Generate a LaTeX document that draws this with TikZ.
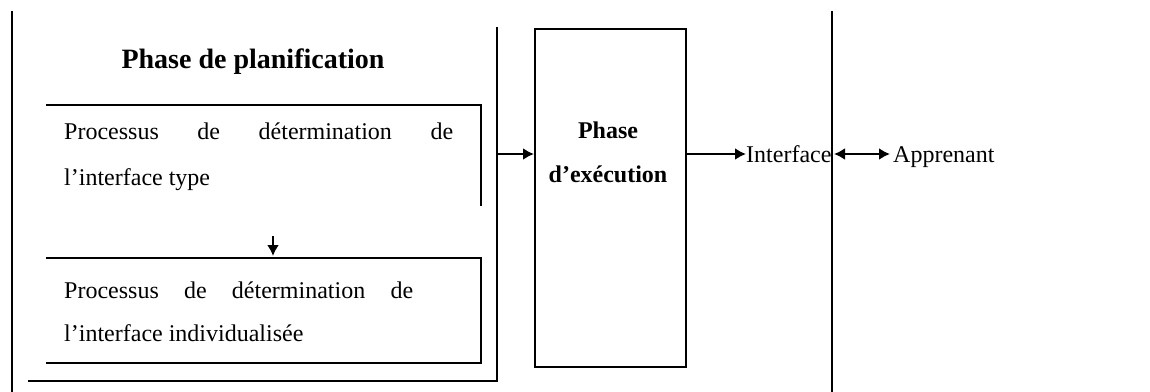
\documentclass[tikz,border=0pt]{standalone}
\usepackage{fontspec}
\setmainfont{Liberation Serif}
\usetikzlibrary{arrows.meta}
\begin{document}
\begin{tikzpicture}[x=1pt,y=-1pt,
  ln/.style={line width=2.2pt,line cap=rect},
  arr/.style={line width=2.2pt,-{Latex[length=11pt,width=12pt]}},
  darr/.style={line width=2.2pt,{Latex[length=11pt,width=12pt]}-{Latex[length=11pt,width=12pt]}},
  lbl/.style={font=\fontsize{24}{28}\selectfont,inner sep=0pt,text height=16pt,text depth=5pt},
  blbl/.style={font=\fontsize{24}{44}\selectfont\bfseries,inner sep=0pt,align=center}]
\useasboundingbox (0,0) rectangle (1150,391);
% page border lines
\coordinate (b1t) at (12,12); \coordinate (b1b) at (12,391);
\coordinate (b2t) at (832,12); \coordinate (b2b) at (832,391);
\draw[ln] (b1t) -- (b1b);
\draw[ln] (b2t) -- (b2b);
% planning phase outer frame
\coordinate (pl-bl) at (29,381); \coordinate (pl-br) at (497,381); \coordinate (pl-tr) at (497,28);
\draw[ln] (pl-bl) -- (pl-br) -- (pl-tr);
\coordinate (pl-out) at (497,154);
\node[blbl,font=\fontsize{28}{34}\selectfont\bfseries] (plt) at (253,62) {Phase de planification};
% process box 1
\coordinate (p1-tl) at (47,105); \coordinate (p1-tr) at (481,105); \coordinate (p1-br) at (481,205);
\draw[ln] (p1-tl) -- (p1-tr) -- (p1-br);
\node[lbl,anchor=west] (p1a) at (64,134) {\hbox to 389pt{Processus\hfill de\hfill détermination\hfill de}};
\node[lbl,anchor=west] (p1b) at (64,180) {l'interface type};
% process box 2
\coordinate (p2-tl) at (47,258); \coordinate (p2-tr) at (481,258); \coordinate (p2-br) at (481,363); \coordinate (p2-bl) at (47,363);
\draw[ln] (p2-tl) -- (p2-tr) -- (p2-br) -- (p2-bl);
\node[lbl,anchor=west] (p2a) at (64,293) {\hbox to 349pt{Processus\hfill de\hfill détermination\hfill de}};
\node[lbl,anchor=west] (p2b) at (64,336) {l'interface individualisée};
\coordinate (a1s) at (273,236); \coordinate (a1e) at (273,256);
\draw[arr] (a1s) -- (a1e);
% execution phase
\node[draw,line width=2.2pt,minimum width=151pt,minimum height=338pt,anchor=north west,inner sep=0pt] (exec) at (534,28) {};
\node[blbl] (exect) at (608,152) {Phase\\d'exécution};
\draw[arr] (pl-out) -- (exec.west |- pl-out);
\node[lbl,anchor=west] (intf) at (746,157) {Interface};
\draw[arr] (exec.east |- pl-out) -- (intf.west |- pl-out);
\node[lbl,anchor=west] (app) at (893,157) {Apprenant};
\coordinate (da) at (834,154);
\draw[darr] (da) -- ([xshift=-3pt]app.west |- pl-out);
\end{tikzpicture}
\end{document}
